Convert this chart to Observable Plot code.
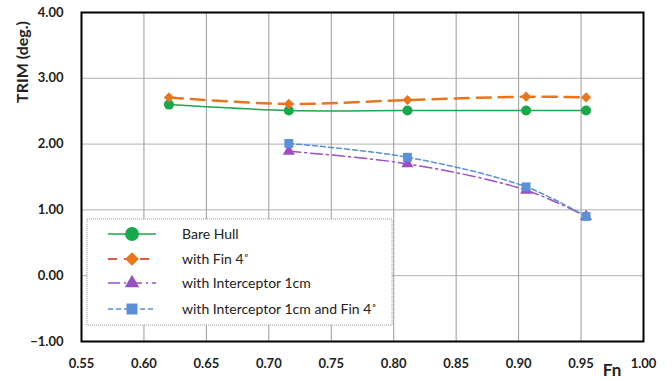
<!DOCTYPE html>
<html>
<head>
<meta charset="utf-8">
<script src="https://cdn.jsdelivr.net/npm/d3@7"></script>
<script src="https://cdn.jsdelivr.net/npm/@observablehq/plot@0.6"></script>
<style>
  html, body { margin: 0; padding: 0; background: #fff; }
  #chart { position: relative; width: 672px; height: 381px; }
  svg { font-family: Lato, "Open Sans", sans-serif; }
</style>
</head>
<body>
<div id="chart"></div>
<script>
// ---- data ----
const seriesNames = ["Bare Hull", "with Fin 4˚", "with Interceptor 1cm", "with Interceptor 1cm and Fin 4˚"];
const bareFn   = [0.620, 0.716, 0.811, 0.906, 0.954];
const bareTrim = [2.60, 2.51, 2.51, 2.51, 2.51];
const finFn    = [0.620, 0.716, 0.811, 0.906, 0.954];
const finTrim  = [2.71, 2.61, 2.67, 2.72, 2.71];
const intFn    = [0.716, 0.811, 0.906, 0.954];
const intTrim  = [1.89, 1.70, 1.30, 0.90];
const intFinFn   = [0.716, 0.811, 0.906, 0.954];
const intFinTrim = [2.01, 1.80, 1.35, 0.90];
const xTicks = [0.55, 0.60, 0.65, 0.70, 0.75, 0.80, 0.85, 0.90, 0.95, 1.00];
const yTicks = [-1, 0, 1, 2, 3, 4];

const colors = ["#1aa84c", "#e8761e", "#9a4fc4", "#5b8fd8"];
const legendLineColors = ["#1aa84c", "#e0584a", "#9a4fc4", "#5b8fd8"];
const dashes = [null, "14,8", "12,4,2,4", "5,3"];
const widths = [1.5, 2.5, 1.5, 1.5];
const symbols = ["circle", "diamond2", "triangle", "square"];
const radii = [5, 4.6, 4.5, 5];

const toRows = (xs, ys) => xs.map((x, i) => ({Fn: x, trim: ys[i]}));
const sets = [toRows(bareFn, bareTrim), toRows(finFn, finTrim), toRows(intFn, intTrim), toRows(intFinFn, intFinTrim)];

const marks = [
  Plot.gridX(xTicks, {stroke: "#9a9a9a", strokeOpacity: 1, strokeWidth: 1}),
  Plot.gridY(yTicks, {stroke: "#b0b0b0", strokeOpacity: 1, strokeWidth: 1}),
  Plot.axisX(xTicks, {tickSize: 0, tickPadding: 17, tickFormat: d3.format(".2f"), fontSize: 13, fontWeight: "bold", fill: "#222", label: null}),
  Plot.axisY(yTicks, {tickSize: 0, tickPadding: 18, tickFormat: d3.format(".2f"), fontSize: 13, fontWeight: "bold", fill: "#222", label: null}),
];
sets.forEach((rows, i) => {
  marks.push(Plot.line(rows, {x: "Fn", y: "trim", stroke: colors[i], strokeWidth: widths[i], strokeDasharray: dashes[i], curve: "catmull-rom"}));
});
sets.forEach((rows, i) => {
  marks.push(Plot.dot(rows, {x: "Fn", y: "trim", fill: colors[i], stroke: "none", symbol: () => symbols[i], r: radii[i]}));
});
marks.push(Plot.frame({stroke: "#000", strokeWidth: 2}));

const chart = Plot.plot({
  width: 672,
  height: 381,
  marginLeft: 81,
  marginRight: 29,
  marginTop: 12,
  marginBottom: 40,
  x: {domain: [0.55, 1.00]},
  y: {domain: [-1, 4]},
  symbol: {type: "identity"},
  marks
});
document.getElementById("chart").appendChild(chart);

const svg = d3.select(chart);
// axis titles
svg.append("text")
  .attr("transform", "translate(24,62) rotate(-90)")
  .attr("text-anchor", "middle").attr("dominant-baseline", "middle")
  .attr("font-size", 16).attr("font-weight", "bold").attr("fill", "#222")
  .text("TRIM (deg.)");
svg.append("text")
  .attr("x", 612).attr("y", 376)
  .attr("text-anchor", "middle")
  .attr("font-size", 17).attr("font-weight", "bold").attr("fill", "#222")
  .text("Fn");

// legend
const lg = svg.append("g").attr("transform", "translate(87,219)");
lg.append("rect").attr("width", 305).attr("height", 106)
  .attr("fill", "#fff").attr("stroke", "#999").attr("stroke-dasharray", "1,1");
const rowY = [15, 40, 64, 90];
const legendSymbols = [d3.symbolCircle, d3.symbolDiamond2, d3.symbolTriangle, d3.symbolSquare];
const legendSizes = [150, 120, 90, 120];
seriesNames.forEach((name, i) => {
  const g = lg.append("g").attr("transform", `translate(0,${rowY[i]})`);
  g.append("line").attr("x1", 21).attr("x2", 69).attr("y1", 0).attr("y2", 0)
    .attr("stroke", legendLineColors[i]).attr("stroke-width", i === 1 ? 2 : 1.5)
    .attr("stroke-dasharray", i === 1 ? "9,7" : dashes[i]);
  const sym = d3.symbol().type(legendSymbols[i]).size(legendSizes[i]);
  g.append("path").attr("d", sym()).attr("transform", "translate(45,0)").attr("fill", colors[i]);
  g.append("text").attr("x", 95).attr("y", 0).attr("dy", "0.35em")
    .attr("text-anchor", "start")
    .attr("font-size", 14).attr("fill", "#222").text(name);
});
</script>
</body>
</html>
